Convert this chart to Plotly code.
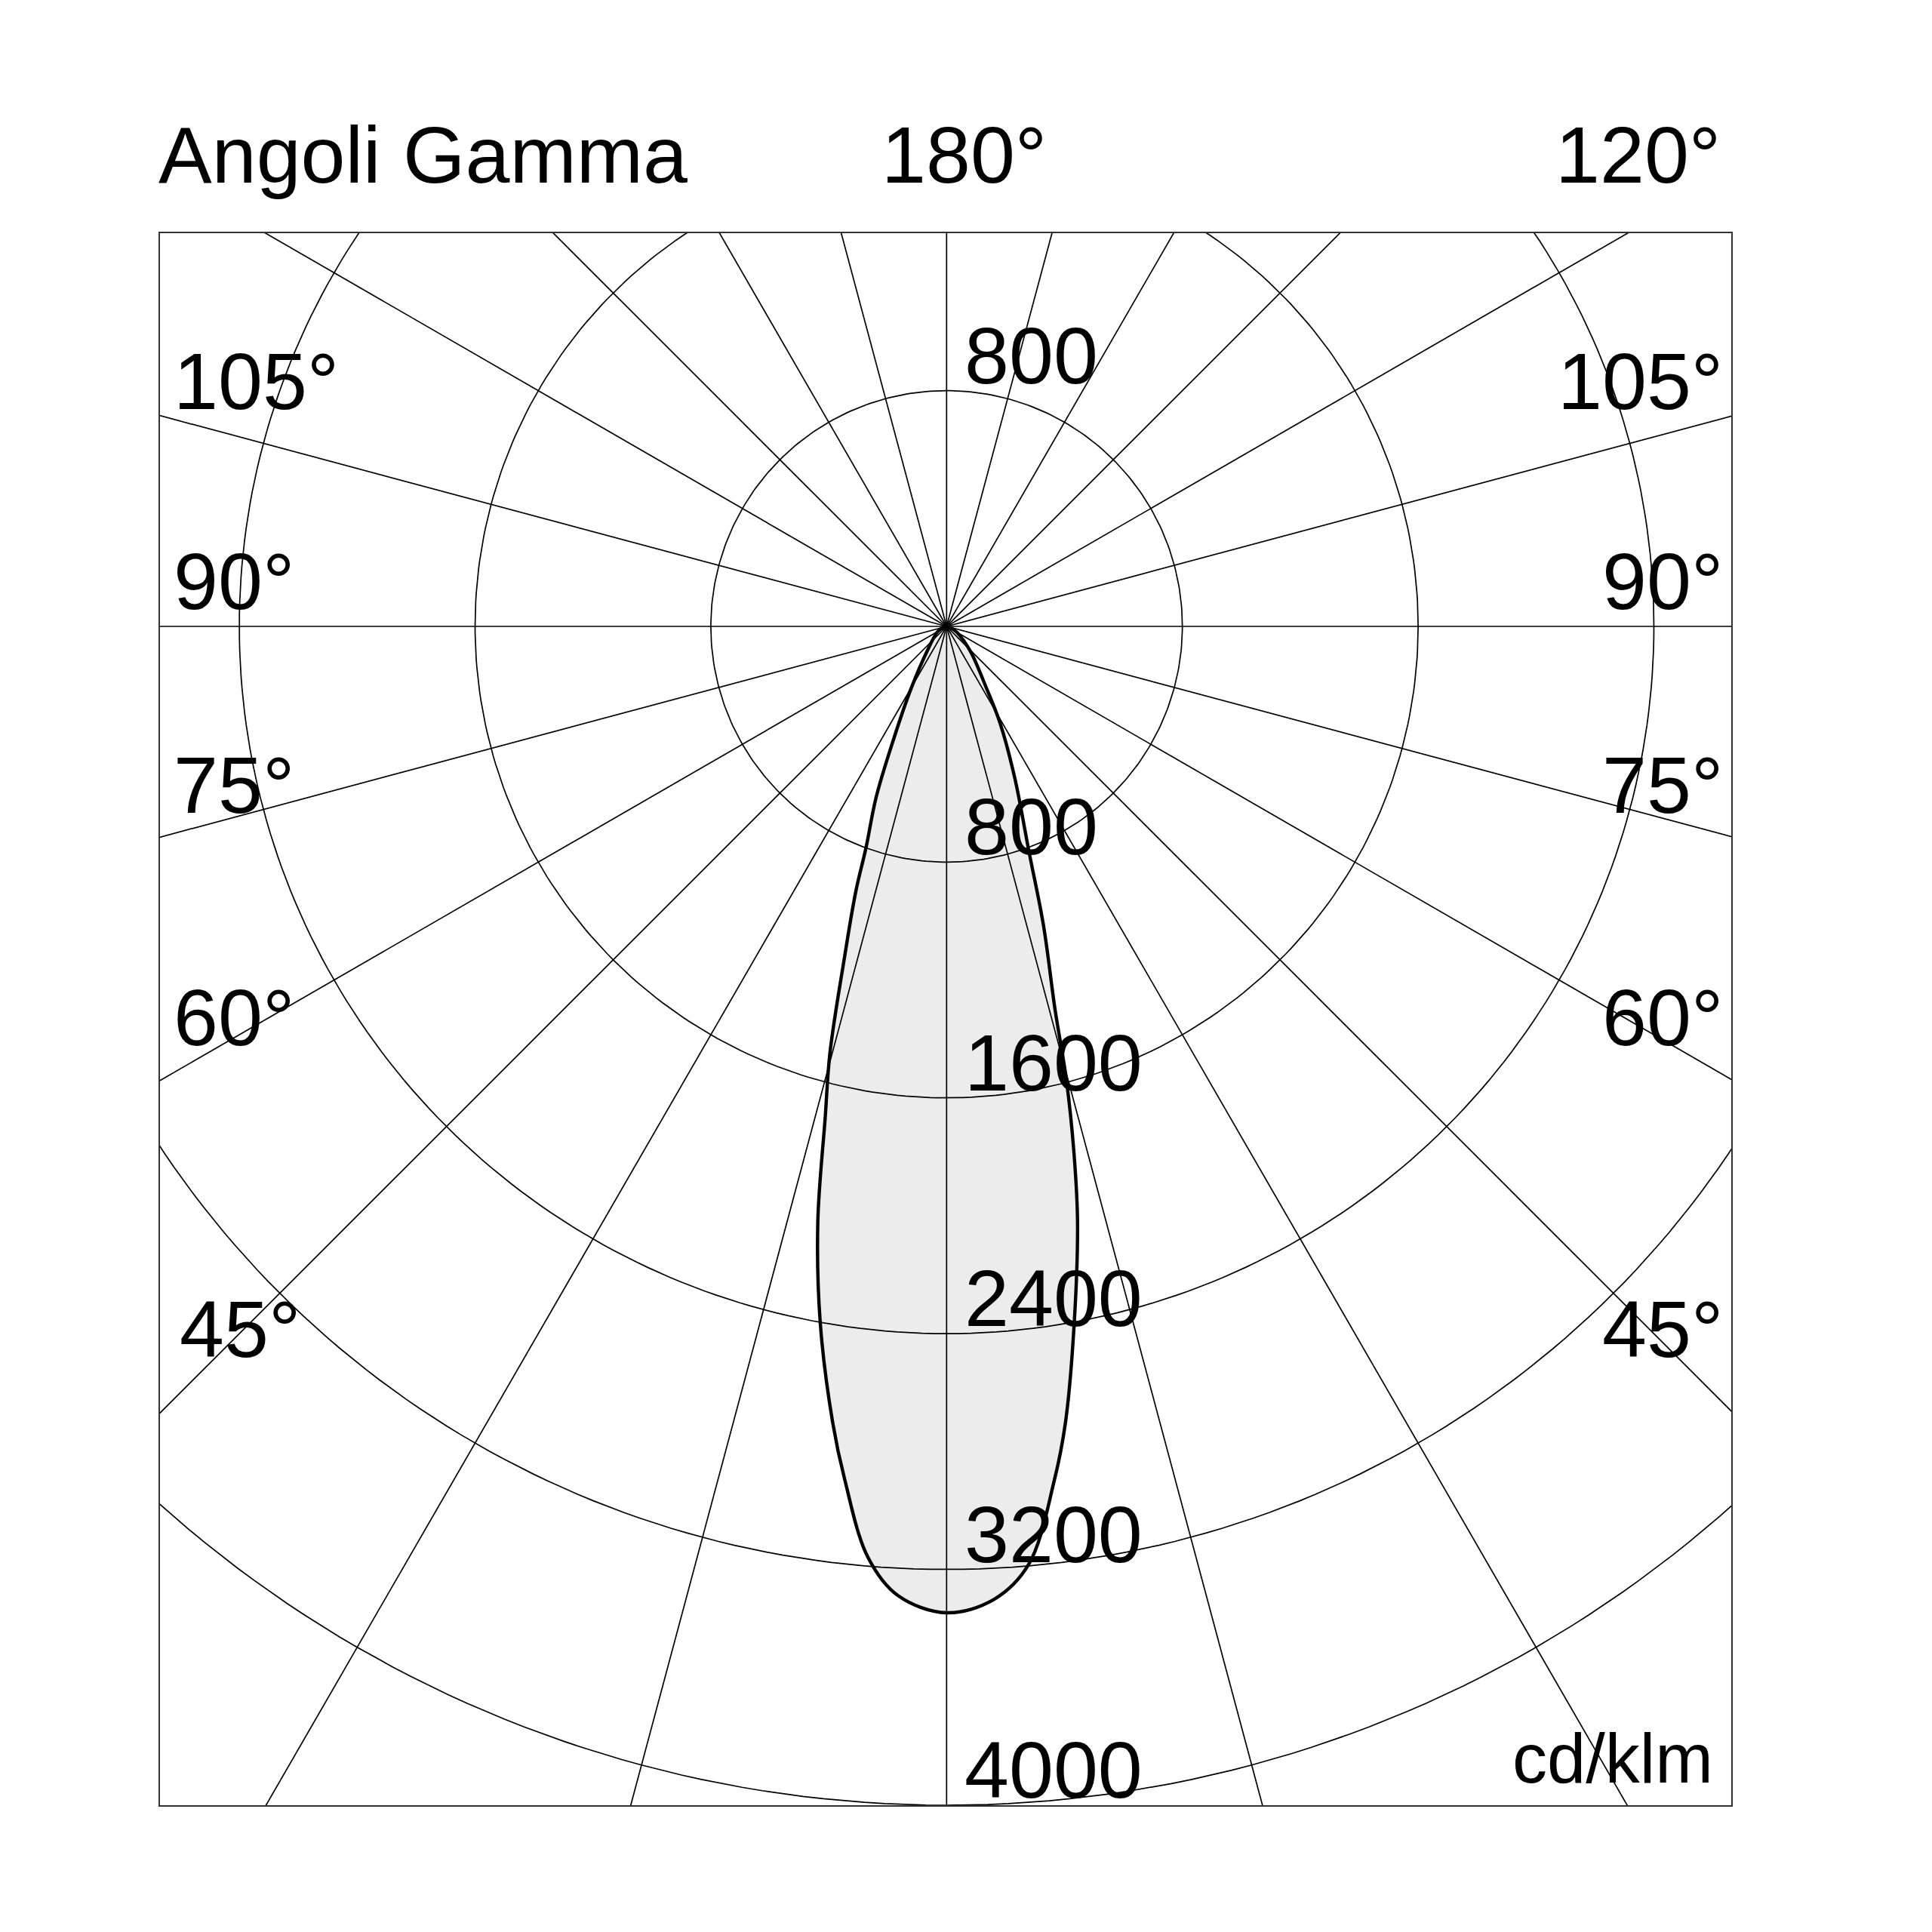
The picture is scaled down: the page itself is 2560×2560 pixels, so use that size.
import numpy as np
import plotly.graph_objects as go

# ---------------- data ----------------
# C0 plane (right half): gamma angle [deg] and intensity [cd/klm]
gamma_c0 = [0, 2.8, 5.0, 7.2, 8.5, 10.4, 12.4, 13.6, 14.8, 15.8, 17.95, 20.1, 24.25, 28.9, 33.1, 44, 60, 75, 90]
intensity_c0 = [3347, 3305, 3195, 2919, 2730, 2400, 2069, 1838, 1591, 1352, 1067, 813, 562, 376, 243, 115, 40, 12, 0]
# C180 plane (left half)
gamma_c180 = [0, 2.87, 4.83, 6.8, 8.15, 10.3, 12.2, 13.9, 15.3, 17.1, 18.9, 20.0, 22.4, 25.1, 29.6, 39.1, 60, 75, 90]
intensity_c180 = [3347, 3293, 3170, 2917, 2728, 2399, 2068, 1714, 1500, 1182, 952, 800, 628, 427, 247, 100, 35, 10, 0]

ring_values = [800, 1600, 2400, 3200, 4000]
ring_labels = ["800", "1600", "2400", "3200", "4000"]
top_ring_value = 800
top_ring_label = "800"
spoke_angles = list(range(0, 360, 15))
side_labels = ["105°", "90°", "75°", "60°", "45°"]
title_text = "Angoli Gamma"
top_center_label = "180°"
top_right_label = "120°"
unit_label = "cd/klm"

# ---------------- layout geometry (page pixels) ----------------
OFF = 8                      # default page body margin
W = H = 2560
plot_left, plot_right, plot_top, plot_bottom = 212 - OFF, 2294 - OFF, 309 - OFF, 2392 - OFF
L, R, T, B = plot_left, W - plot_right, plot_top, H - plot_bottom
PW, PH = plot_right - plot_left, plot_bottom - plot_top
cx_px, cy_px = 1254.3 - OFF, 830.0 - OFF
k = 4000 / (plot_bottom - cy_px)     # data units per pixel
x_range = [-(cx_px - plot_left) * k, (plot_right - cx_px) * k]
y_range = [-4000, (cy_px - plot_top) * k]

def px_to_paper(px, py):
    px -= OFF
    py -= OFF
    return (px - plot_left) / PW, (plot_bottom - py) / PH

FONT = "Liberation Sans, Arial, sans-serif"
BIG = 106

fig = go.Figure()

# photometric curve: closed path (right half from 90 deg down to 0, then left half 0 -> 90)
g0 = np.radians(gamma_c0)
g1 = np.radians(gamma_c180)
r0 = np.array(intensity_c0, float)
r1 = np.array(intensity_c180, float)
xr, yr = r0 * np.sin(g0), -r0 * np.cos(g0)
xl, yl = -r1 * np.sin(g1), -r1 * np.cos(g1)
xs = np.concatenate([xr[::-1], xl[1:]])
ys = np.concatenate([yr[::-1], yl[1:]])

SMOOTH = 1.0
fig.add_trace(go.Scatter(x=xs, y=ys, mode="lines", fill="toself",
                         fillcolor="#ececec", line=dict(width=0, shape="spline", smoothing=SMOOTH),
                         hoverinfo="skip", showlegend=False))

# grid rings
t = np.radians(np.arange(0, 361, 1))
gx, gy = [], []
for rv in ring_values:
    gx += list(rv * np.cos(t)) + [None]
    gy += list(rv * np.sin(t)) + [None]
fig.add_trace(go.Scatter(x=gx, y=gy, mode="lines", line=dict(color="#000", width=1.7),
                         hoverinfo="skip", showlegend=False))

# spokes every 15 degrees
sx, sy = [], []
LONG = 8000
for a in spoke_angles:
    ar = np.radians(a)
    sx += [0, LONG * np.sin(ar), None]
    sy += [0, -LONG * np.cos(ar), None]
fig.add_trace(go.Scatter(x=sx, y=sy, mode="lines", line=dict(color="#000", width=1.7),
                         hoverinfo="skip", showlegend=False))

# curve outline
fig.add_trace(go.Scatter(x=xs, y=ys, mode="lines",
                         line=dict(color="#000", width=4.4, shape="spline", smoothing=SMOOTH),
                         hoverinfo="skip", showlegend=False))

ann = []
# radial value labels (just above each ring, right of the vertical axis)
for rv, lab in zip(ring_values, ring_labels):
    ann.append(dict(x=0, y=-rv, xref="x", yref="y", text=lab, showarrow=False,
                    xanchor="left", yanchor="middle", xshift=22, yshift=47,
                    font=dict(family=FONT, size=BIG, color="#000")))
ann.append(dict(x=0, y=top_ring_value, xref="x", yref="y", text=top_ring_label, showarrow=False,
                xanchor="left", yanchor="middle", xshift=22, yshift=47,
                font=dict(family=FONT, size=BIG, color="#000")))

# side angle labels
side_py = [505, 770, 1040, 1348, 1761]
for lab, py in zip(side_labels, side_py):
    lx = 236 if lab == "45°" else 228
    xp, yp = px_to_paper(lx, py)
    ann.append(dict(x=xp, y=yp, xref="paper", yref="paper", text=lab, showarrow=False,
                    xanchor="left", yanchor="middle", font=dict(family=FONT, size=BIG, color="#000")))
    xp, yp = px_to_paper(2285, py)
    ann.append(dict(x=xp, y=yp, xref="paper", yref="paper", text=lab, showarrow=False,
                    xanchor="right", yanchor="middle", font=dict(family=FONT, size=BIG, color="#000")))

# top row
xp, yp = px_to_paper(208, 205)
ann.append(dict(x=xp, y=yp, xref="paper", yref="paper", text=title_text, showarrow=False,
                xanchor="left", yanchor="middle", font=dict(family=FONT, size=BIG, color="#000")))
xp, yp = px_to_paper(1277, 205)
ann.append(dict(x=xp, y=yp, xref="paper", yref="paper", text=top_center_label, showarrow=False,
                xanchor="center", yanchor="middle", font=dict(family=FONT, size=BIG, color="#000")))
xp, yp = px_to_paper(2282, 205)
ann.append(dict(x=xp, y=yp, xref="paper", yref="paper", text=top_right_label, showarrow=False,
                xanchor="right", yanchor="middle", font=dict(family=FONT, size=BIG, color="#000")))
# unit
xp, yp = px_to_paper(2272, 2330)
ann.append(dict(x=xp, y=yp, xref="paper", yref="paper", text=unit_label, showarrow=False,
                xanchor="right", yanchor="middle", font=dict(family=FONT, size=92, color="#000")))

axis_common = dict(showgrid=False, zeroline=False, showticklabels=False, ticks="",
                   showline=True, mirror=True, linecolor="#333", linewidth=2, fixedrange=True)
fig.update_layout(
    width=W, height=H, autosize=False,
    margin=dict(l=L, r=R, t=T, b=B, pad=0),
    paper_bgcolor="white", plot_bgcolor="white",
    xaxis=dict(range=x_range, **axis_common),
    yaxis=dict(range=y_range, **axis_common),
    annotations=ann,
    showlegend=False,
)

fig.write_html("out.html")
